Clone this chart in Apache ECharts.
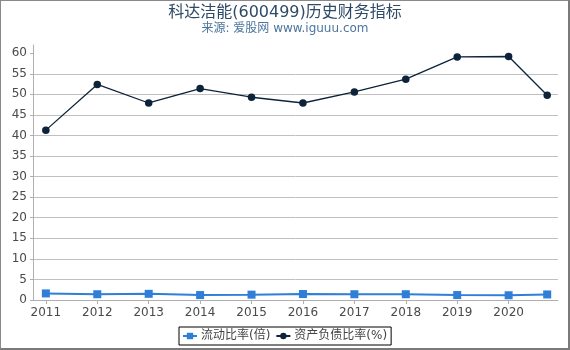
<!DOCTYPE html>
<html>
<head>
<meta charset="utf-8">
<script src="https://cdn.jsdelivr.net/npm/echarts@6/dist/echarts.min.js"></script>
<style>
  html, body { margin: 0; padding: 0; background: #fff; }
  #wrap { position: relative; width: 570px; height: 350px; }
  #chart { width: 570px; height: 350px; }
  #frame { position: absolute; left: 0; top: 0; width: 570px; height: 350px; box-sizing: border-box;
           border-top: 1px solid #8a8a8a; border-left: 1px solid #8a8a8a;
           border-right: 2px solid #7a7a7a; border-bottom: 2px solid #7a7a7a; pointer-events: none; }
</style>
</head>
<body>
<div id="wrap"><div id="chart"></div><div id="frame"></div></div>
<script>
// Data
const titleText = '科达洁能(600499)历史财务指标';
const subtitleText = '来源: 爱股网 www.iguuu.com';
const periods = ['2011-12-31','2012-12-31','2013-12-31','2014-12-31','2015-12-31','2016-12-31','2017-12-31','2018-12-31','2019-12-31','2020-12-31','2021-09-30'];
const xTickLabels = [2011, 2012, 2013, 2014, 2015, 2016, 2017, 2018, 2019, 2020];
const yTickLabels = [0, 5, 10, 15, 20, 25, 30, 35, 40, 45, 50, 55, 60];
const currentRatioName = '流动比率(倍)';
const debtRatioName = '资产负债比率(%)';
const currentRatio = [1.6, 1.4, 1.5, 1.2, 1.3, 1.45, 1.4, 1.4, 1.2, 1.15, 1.35];
const debtRatio = [41.3, 52.4, 47.9, 51.4, 49.3, 47.9, 50.6, 53.7, 59.1, 59.2, 49.8];

// period -> fractional year position (year-end = the year label)
function periodPos(p) {
  const parts = p.split('-');
  return Number(parts[0]) + (Number(parts[1]) - 12) / 12;
}
const xs = periods.map(periodPos);

const font = 'DejaVu Sans, "Noto Sans CJK SC", sans-serif';
const chart = echarts.init(document.getElementById('chart'), null, { renderer: 'canvas' });
chart.setOption({
  animation: false,
  textStyle: { fontFamily: font },
  title: {
    text: titleText,
    subtext: subtitleText,
    left: 'center',
    top: 0,
    itemGap: 2,
    textStyle: { fontFamily: font, fontSize: 16, fontWeight: 'normal', color: '#2f4a66' },
    subtextStyle: { fontFamily: font, fontSize: 12, color: '#4d759e' }
  },
  legend: {
    left: 179,
    top: 327,
    padding: [3, 4, 3, 3],
    itemGap: 5,
    itemWidth: 14,
    itemHeight: 8,
    borderColor: '#000',
    borderWidth: 1,
    borderRadius: 0,
    textStyle: { fontFamily: font, fontSize: 12, color: '#444', padding: [0, 0, 0, -1] },
    data: [currentRatioName, debtRatioName]
  },
  grid: { left: 33, right: 12, top: 45, bottom: 50, containLabel: false },
  xAxis: {
    type: 'value',
    min: 2010.75,
    max: 2020.96,
    offset: 4,
    axisLine: { show: true, lineStyle: { color: '#b0b0b0', width: 1 } },
    axisTick: { show: true, length: 4, customValues: xTickLabels, lineStyle: { color: '#b0b0b0' } },
    axisLabel: { customValues: xTickLabels, formatter: v => String(Math.round(v)), fontSize: 12, color: '#4a4a4a', margin: 3, fontFamily: font },
    splitLine: { show: false }
  },
  yAxis: {
    type: 'value',
    min: 0,
    max: 62,
    interval: 5,
    axisLine: { show: true, lineStyle: { color: '#b0b0b0', width: 1 } },
    axisTick: { show: true, length: 3, customValues: yTickLabels, lineStyle: { color: '#b0b0b0' } },
    axisLabel: { customValues: yTickLabels, fontSize: 12, color: '#4a4a4a', margin: 6, fontFamily: font },
    splitLine: { show: true, showMinLine: false, showMaxLine: false, lineStyle: { color: '#c0c0c0', width: 1 } }
  },
  series: [
    {
      name: currentRatioName,
      type: 'line',
      data: xs.map((x, i) => [x, currentRatio[i]]),
      symbol: 'rect',
      symbolSize: 8,
      color: '#2f7ed8',
      lineStyle: { width: 2, color: '#2f7ed8' },
      itemStyle: { color: '#2f7ed8' }
    },
    {
      name: debtRatioName,
      type: 'line',
      data: xs.map((x, i) => [x, debtRatio[i]]),
      symbol: 'circle',
      symbolSize: 7.5,
      color: '#0d233a',
      lineStyle: { width: 1.3, color: '#0d233a' },
      itemStyle: { color: '#0d233a' }
    }
  ]
});
</script>
</body>
</html>
